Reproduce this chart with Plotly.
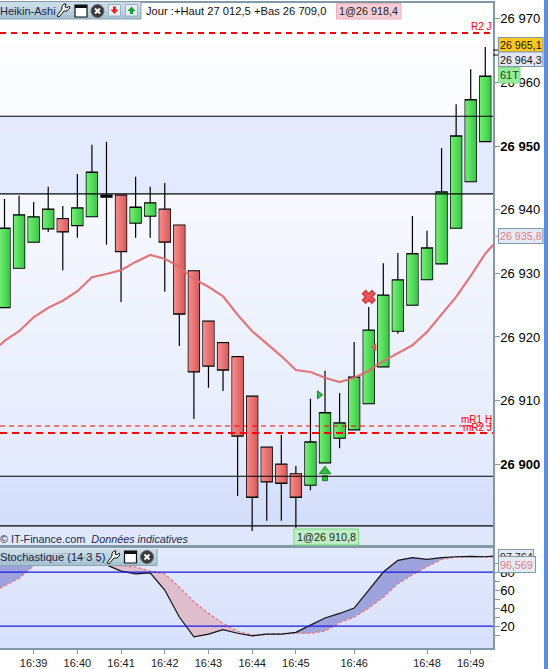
import plotly.graph_objects as go

# ---------- data ----------
bar_index = list(range(34))
opens = [26924.6,26930.8,26934.9,26937.0,26938.6,26937.5,26938.9,26942.3,26942.3,26937.9,26939.0,26940.1,26937.6,26930.4,26922.5,26919.1,26916.9,26910.7,26902.7,26900.0,26898.5,26896.7,26900.2,26904.1,26905.4,26909.5,26915.3,26920.9,26925.0,26929.0,26931.5,26937.1,26944.4,26950.7]
highs = [26941.7,26942.2,26941.2,26943.6,26940.6,26945.6,26950.2,26950.7,26942.3,26945.2,26943.6,26944.2,26937.6,26930.4,26922.5,26919.1,26916.9,26910.7,26902.7,26904.6,26899.7,26910.3,26914.7,26911.2,26919.2,26924.7,26931.6,26933.2,26939.0,26936.7,26949.7,26956.6,26962.1,26965.6]
lows = [26924.6,26930.8,26934.9,26936.5,26930.5,26935.6,26938.9,26934.5,26925.5,26935.6,26935.6,26927.1,26918.6,26907.1,26912.0,26911.5,26895.0,26889.5,26891.1,26891.1,26890.0,26895.9,26900.2,26902.5,26905.4,26909.5,26915.3,26920.5,26925.0,26929.0,26931.5,26937.1,26944.4,26950.7]
closes = [26937.1,26939.2,26938.9,26940.1,26936.5,26940.3,26945.9,26942.0,26933.4,26940.4,26941.1,26934.9,26923.6,26914.5,26915.4,26914.8,26904.4,26894.8,26897.2,26897.0,26894.8,26903.5,26908.1,26906.5,26913.7,26921.1,26926.6,26929.0,26933.1,26934.0,26942.8,26951.6,26957.3,26961.0]
ema_x = [-0.31]+bar_index+[33.55]
ema = [26918.7,26919.4,26920.9,26923.1,26924.6,26925.7,26927.2,26929.4,26929.9,26930.5,26931.8,26932.9,26932.3,26931.0,26929.1,26927.9,26926.4,26923.5,26920.9,26918.9,26917.0,26914.8,26914.5,26913.6,26912.9,26913.6,26914.7,26916.2,26917.5,26918.7,26920.8,26923.5,26926.3,26929.6,26933.1,26934.5]
stoch_x = [-0.31]+bar_index+[33.55]
stoch_k = [93,95,99,102,102,101,98,95,88,81,78,79,60,30,8,11,16,12,9,11,11,13,21,29,34,40,60,80,93,96,94,96,97,97.5,97,97.8]
stoch_d = [62,64.4,73,87,97,100,96,92,88,87,85.5,81,78,63,47,34,23,14,10,11,11,12,12,14.5,24,30,40,52,67,77,86,94,96.6,97,97,96.6]

y_ticks = [26900,26910,26920,26930,26940,26950,26960,26970]
y_labels = ["<b>26 900</b>","26 910","26 920","26 930","26 940","<b>26 950</b>","26 960","26 970"]
time_pos = [2,5,8,11,14,17,20,24,29,32]
time_labels = ["16:39","16:40","16:41","16:42","16:43","16:44","16:45","16:46","16:48","16:49"]
stoch_ticks = [10,20,30,40,50,60,70,80,90]
stoch_labels = ["","20","","40","","60","","80",""]

level_r2 = 26967.8
level_mr1 = 26906.0
level_mr2 = 26904.9
level_black = [26954.7,26942.5,26898.1,26890.3]

# ---------- layout constants ----------
W,H = 548,669
FONT = "Liberation Sans"
GRID = "#8299A8"
X_RANGE = [-0.309,33.53]
Y_RANGE = [26887.3,26972.5]
S_RANGE = [-4.4,106.7]
BG_SCALE = [[0,"#D2DDFB"],[1,"#FFFFFF"]]

def px(x): return x/W
def py(y): return 1-y/H

fig = go.Figure()

# background wash: (price from, price to, shade at from, shade at to)
bands = [
    (Y_RANGE[0],26890.3,0.33,0.29),
    (26890.3,26898.1,0.02,0.15),
    (26898.1,26942.5,0.38,0.82),
    (26942.5,26954.7,0.38,0.42),
    (26954.7,Y_RANGE[1],0.87,1.0),
]
def shade(v):
    for lo,hi,a,b in bands:
        if v<=hi:
            return a+(b-a)*(v-lo)/(hi-lo)
    return 1.0
rows = int((Y_RANGE[1]-Y_RANGE[0])/0.15)+1
ys = [Y_RANGE[0]+0.15*r for r in range(rows)]
fig.add_trace(go.Heatmap(x=[X_RANGE[0],X_RANGE[1]],y=ys,z=[[shade(v),shade(v)] for v in ys],zmin=0,zmax=1,
    colorscale=BG_SCALE,showscale=False,hoverinfo="skip",xaxis="x",yaxis="y"))
s_rows = [S_RANGE[0]+1.0*r for r in range(int(S_RANGE[1]-S_RANGE[0])+1)]
fig.add_trace(go.Heatmap(x=[X_RANGE[0],X_RANGE[1]],y=s_rows,
    z=[[0.13+0.23*(v-S_RANGE[0])/(S_RANGE[1]-S_RANGE[0])]*2 for v in s_rows],zmin=0,zmax=1,
    colorscale=BG_SCALE,showscale=False,hoverinfo="skip",xaxis="x2",yaxis="y2"))

# candles
fig.add_trace(go.Candlestick(x=bar_index,open=opens,high=highs,low=lows,close=closes,whiskerwidth=0,
    increasing=dict(fillcolor="#55DD5C",line=dict(color="#000000",width=1.2)),
    decreasing=dict(fillcolor="#E87474",line=dict(color="#000000",width=1.2)),showlegend=False,xaxis="x",yaxis="y"))
HW = 0.37
for i,o,c in zip(bar_index,opens,closes):
    up = c>=o
    lo,hi = min(o,c)+0.12,max(o,c)-0.12
    if hi<=lo: continue
    fig.add_trace(go.Scatter(x=[i-HW,i+HW,i+HW,i-HW,i-HW],y=[lo,lo,hi,hi,lo],mode="lines",line=dict(width=0),fill="toself",
        fillgradient=dict(type="horizontal",colorscale=[[0,"#72F072"],[1,"#3CC648"]] if up else [[0,"#F88C8C"],[1,"#D65C5C"]]),
        hoverinfo="skip",showlegend=False,xaxis="x",yaxis="y"))

# moving average
fig.add_trace(go.Scatter(x=ema_x,y=ema,mode="lines",line=dict(color="#E06A6E",width=2.2),opacity=0.9,hoverinfo="skip",showlegend=False,xaxis="x",yaxis="y"))

# signals
fig.add_trace(go.Scatter(x=[21.6],y=[26910.9],mode="markers",marker=dict(symbol="triangle-right",size=7,color="#2FBF3F",line=dict(color="#128A22",width=1)),showlegend=False,xaxis="x",yaxis="y"))
fig.add_trace(go.Scatter(x=[22],y=[26897.8],mode="markers",marker=dict(symbol="square",size=5,color="#2FBF3F",line=dict(color="#128A22",width=1)),showlegend=False,xaxis="x",yaxis="y"))
fig.add_trace(go.Scatter(x=[22],y=[26898.9],mode="markers",marker=dict(symbol="triangle-up",size=10,color="#2FBF3F",line=dict(color="#128A22",width=1)),showlegend=False,xaxis="x",yaxis="y"))
fig.add_trace(go.Scatter(x=[25],y=[26926.3],mode="markers",marker=dict(symbol="x",size=11,color="#E85858",line=dict(color="#D04040",width=1.5)),showlegend=False,xaxis="x",yaxis="y"))
fig.add_trace(go.Scatter(x=[25.4],y=[26918.4],mode="markers",marker=dict(symbol="triangle-left",size=7,color="#E85858"),showlegend=False,xaxis="x",yaxis="y"))

# stochastic fills: split K/D into regions where K is above or below D
def regions(xs,k,d,above):
    ox,oy = [],[]
    seg = []
    def flush():
        nonlocal seg
        if len(seg)>=2:
            px_ = [s[0] for s in seg]
            ox.extend(px_+px_[::-1]+[px_[0],None])
            oy.extend([s[1] for s in seg]+[s[2] for s in seg][::-1]+[seg[0][1],None])
        seg = []
    for i in range(len(xs)):
        diff = k[i]-d[i]
        inside = diff>=0 if above else diff<=0
        if inside:
            seg.append((xs[i],k[i],d[i]))
        else:
            if seg:
                prev = k[i-1]-d[i-1]
                t = prev/(prev-diff) if prev!=diff else 0
                xc = xs[i-1]+t*(xs[i]-xs[i-1]); yc = k[i-1]+t*(k[i]-k[i-1])
                seg.append((xc,yc,yc))
            flush()
            if i+1<len(xs):
                nd = k[i+1]-d[i+1]
                if (nd>=0 if above else nd<=0) and nd!=diff:
                    t = diff/(diff-nd)
                    xc = xs[i]+t*(xs[i+1]-xs[i]); yc = k[i]+t*(k[i+1]-k[i])
                    seg.append((xc,yc,yc))
    flush()
    return ox,oy

bx,by = regions(stoch_x,stoch_k,stoch_d,True)
rx,ry = regions(stoch_x,stoch_k,stoch_d,False)
fig.add_trace(go.Scatter(x=bx,y=by,mode="lines",line=dict(width=0),fill="toself",fillcolor="#9CA3DD",hoverinfo="skip",showlegend=False,xaxis="x2",yaxis="y2"))
fig.add_trace(go.Scatter(x=rx,y=ry,mode="lines",line=dict(width=0),fill="toself",fillcolor="#DFBFCE",hoverinfo="skip",showlegend=False,xaxis="x2",yaxis="y2"))
fig.add_trace(go.Scatter(x=stoch_x,y=stoch_d,mode="lines",line=dict(color="#E87C86",width=1.4,dash="3px,2px"),hoverinfo="skip",showlegend=False,xaxis="x2",yaxis="y2"))
fig.add_trace(go.Scatter(x=stoch_x,y=stoch_k,mode="lines",line=dict(color="#111111",width=1.2),hoverinfo="skip",showlegend=False,xaxis="x2",yaxis="y2"))

shapes = []
annotations = []

def hline(val,color,width,dash="solid",y="y",x="x"):
    shapes.append(dict(type="line",xref="x domain",yref=y,x0=0,x1=1,y0=val,y1=val,line=dict(color=color,width=width,dash=dash)))
for v in level_black:
    hline(v,"#000000",1.1)
hline(level_r2,"#FF0000",2,"6px,5px")
hline(level_mr1,"#FF0000",1.1,"5px,4px")
hline(level_mr2,"#FF0000",2,"7px,5px")
shapes.append(dict(type="line",xref="x2 domain",yref="y2",x0=0,x1=1,y0=80,y1=80,line=dict(color="#1A1AE0",width=1.3)))
shapes.append(dict(type="line",xref="x2 domain",yref="y2",x0=0,x1=1,y0=20,y1=20,line=dict(color="#1A1AE0",width=1.3)))

def rect(x0,y0,x1,y1,fill,line=None,lw=1):
    shapes.append(dict(type="rect",xref="paper",yref="paper",x0=px(x0),x1=px(x1),y0=py(y0),y1=py(y1),fillcolor=fill,
        line=dict(color=line or fill,width=lw if line else 0)))
def seg(x0,y0,x1,y1,color,w=1):
    shapes.append(dict(type="line",xref="paper",yref="paper",x0=px(x0),x1=px(x1),y0=py(y0),y1=py(y1),line=dict(color=color,width=w)))
def poly(pts,fill,line=None,lw=1):
    d = "M"+" L".join(f"{px(a):.5f},{py(b):.5f}" for a,b in pts)+" Z"
    shapes.append(dict(type="path",xref="paper",yref="paper",path=d,fillcolor=fill,line=dict(color=line or fill,width=lw if line else 0)))
def text(x,y,s,size=11,color="#000000",anchor="left"):
    annotations.append(dict(xref="paper",yref="paper",x=px(x),y=py(y),text=s,showarrow=False,xanchor=anchor,yanchor="middle",
        font=dict(family=FONT,size=size,color=color),borderpad=0,borderwidth=0))

def wrench(x,y):
    poly([(x,y+12),(x+2,y+13),(x+7,y+7),(x+10,y+7),(x+13,y+4),(x+12,y+2),(x+10,y+4),(x+8,y+3),(x+9,y+0),(x+7,y+0),(x+5,y+2),(x+5,y+5)],"#FFFFFF","#111111",1)
def window(x,y,s=12):
    rect(x,y,x+s,y+s,"#FFFFFF","#111111",1.2)
    rect(x,y,x+s,y+3,"#111111")
def closeicon(cx,cy,r=6.5):
    shapes.append(dict(type="circle",xref="paper",yref="paper",x0=px(cx-r),x1=px(cx+r),y0=py(cy-r),y1=py(cy+r),fillcolor="#3A3A3A",line=dict(color="#666666",width=1)))
    seg(cx-2.5,cy-2.5,cx+2.5,cy+2.5,"#FFFFFF",2)
    seg(cx-2.5,cy+2.5,cx+2.5,cy-2.5,"#FFFFFF",2)
def toolbar(x1,y0,y1):
    cols = ["#C9DCE6","#BFD5E0","#B4CDDA","#A8C3D2"]
    h = (y1-y0)/len(cols)
    for n,c in enumerate(cols):
        rect(0,y0+n*h,x1,y0+(n+1)*h,c)
    seg(x1,y0,x1,y1,"#8BA3B2",1)
    seg(0,y1,x1,y1,"#8BA3B2",1)

rect(544,0,548,669,"#5B8DE0")

# top toolbar
toolbar(141,2,19)
text(0,11,"Heikin-Ashi",11,"#14224A")
wrench(57,4)
window(75,5)
closeicon(97.5,11)
rect(108.5,4.5,120.5,16,"#E8EEF4","#9DB3C2")
poly([(114.5,14),(110.5,9.5),(113,9.5),(113,6.5),(116,6.5),(116,9.5),(118.5,9.5)],"#EE2222")
rect(125.5,4.5,137.5,16,"#E8EEF4","#9DB3C2")
poly([(131.5,6.5),(127.5,11),(130,11),(130,14),(133,14),(133,11),(135.5,11)],"#18A030")
text(146,11,"Jour :+Haut 27 012,5 +Bas 26 709,0",11.2,"#111111")
rect(336.5,3.5,401,19,"#F5CDD5","#EFB0BC")
text(339,11,"1@26 918,4",10.8,"#222222")

# level labels
text(492,26,"R2 J",10,"#FF0000","right")
text(492,419,"mR1 H",10,"#FF0000","right")
text(492,427,"mR2 J",10,"#FF0000","right")

# bottom-left legal text and fill tag
text(0,539,"© IT-Finance.com &nbsp;<i>Données indicatives</i>",10.8,"#1A2A50")
rect(294,529,358.5,545,"#BEEFC2","#72D97C")
text(297,537,"1@26 910,8",10.8,"#222222")

# stochastic toolbar
toolbar(157,549,565.5)
text(0,557,"Stochastique (14 3 5)",11.1,"#14224A")
wrench(107,551)
window(124.5,551)
closeicon(147,557)

# right price tags
seg(493,50,498,50,"#000000",1); seg(493,55,498,55,"#000000",1)
rect(498.5,37.5,543,52,"#FFC81E","#8299A8",1.2)
text(500,45,"26 965,1",10.7,"#111111")
rect(498.5,52,543,66.5,"#E2E8F6","#8299A8",1.2)
text(500,60,"26 964,3",10.7,"#111111")
rect(498.5,67.5,520,83,"#96EC9C","#80DC88",1)
text(500,75,"61T",11,"#1A4A1A")
seg(493,236,498,236,"#E58080",1)
rect(498.5,228.5,543,243.5,"#E4EAF6","#8299A8",1.2)
text(500,236,"26 935,8",10.7,"#E57C80")
rect(498.5,549.5,533.5,558,"#E4EAF6","#8299A8",1.2)
text(500,556.5,"97,764",10.7,"#222222")
annotations.append(dict(xref="paper",yref="paper",x=px(498),y=py(564.5),text="96,569",showarrow=False,xanchor="left",yanchor="middle",
    width=34,height=13,align="left",bgcolor="#E4EAF6",bordercolor=GRID,borderwidth=1,borderpad=1,
    font=dict(family=FONT,size=10.7,color="#E57C80")))

dom_main = [py(545),py(3)]
dom_st = [py(648),py(548)]
xdom = [0,493/W]

fig.update_layout(
    width=W,height=H,margin=dict(l=0,r=0,t=0,b=0,pad=0),autosize=False,
    paper_bgcolor="#FFFFFF",plot_bgcolor="#FFFFFF",showlegend=False,hovermode=False,
    boxgap=0.24,boxgroupgap=0,
    font=dict(family=FONT,size=12,color="#000000"),
    xaxis=dict(domain=xdom,range=X_RANGE,anchor="y",showticklabels=False,ticks="",showgrid=False,zeroline=False,
               showline=True,linecolor=GRID,linewidth=1.5,mirror=True,rangeslider=dict(visible=False),fixedrange=True),
    yaxis=dict(domain=dom_main,range=Y_RANGE,anchor="x",side="right",tickmode="array",tickvals=y_ticks,ticktext=y_labels,
               ticks="outside",ticklen=5,tickcolor=GRID,tickwidth=1,showgrid=False,zeroline=False,ticklabelstandoff=-2,
               showline=True,linecolor=GRID,linewidth=1.5,tickfont=dict(family=FONT,size=13,color="#000000"),fixedrange=True),
    xaxis2=dict(domain=xdom,range=X_RANGE,anchor="y2",matches="x",tickmode="array",tickvals=time_pos,ticktext=time_labels,
                ticks="outside",ticklen=4,tickcolor=GRID,tickwidth=1,showgrid=False,zeroline=False,
                showline=True,linecolor=GRID,linewidth=1.5,mirror=True,tickfont=dict(family=FONT,size=11,color="#222222"),fixedrange=True),
    yaxis2=dict(domain=dom_st,range=S_RANGE,anchor="x2",side="right",tickmode="array",tickvals=stoch_ticks,ticktext=stoch_labels,
                ticks="outside",ticklen=5,tickcolor=GRID,tickwidth=1,showgrid=False,zeroline=False,ticklabelstandoff=-2,
                showline=True,linecolor=GRID,linewidth=1.5,tickfont=dict(family=FONT,size=13,color="#000000"),fixedrange=True),
    shapes=shapes,annotations=annotations,
)
fig.write_html("out.html",config=dict(displayModeBar=False),
    post_script="document.body.style.margin='0';document.documentElement.style.overflow='hidden';")
